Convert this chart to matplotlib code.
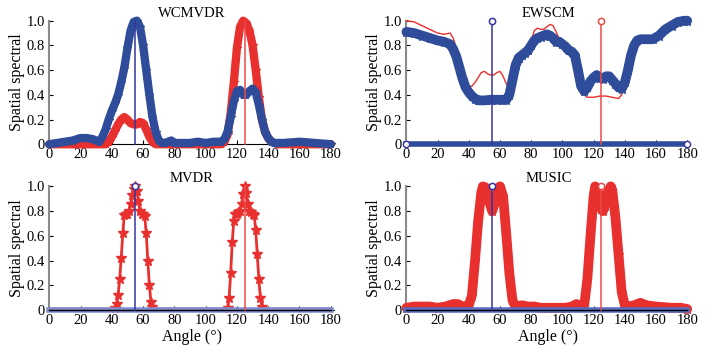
import numpy as np
import matplotlib
matplotlib.use('Agg')
import matplotlib.pyplot as plt

plt.rcParams['font.family'] = ['Liberation Serif', 'DejaVu Serif']

RED = '#e8302e'
BLUE = '#2f4c9b'
STEM_BLUE = '#3535a0'
STEM_RED = '#ec4a4a'

true_doa = [55, 125]
xticks = [0, 20, 40, 60, 80, 100, 120, 140, 160, 180]
yticks = [0, 0.2, 0.4, 0.6, 0.8, 1.0]
ytick_labels = ['0', '0.2', '0.4', '0.6', '0.8', '1.0']

# WCMVDR
wc_red_ang = [0, 36, 38, 40, 42, 44, 46, 48, 50, 52, 54, 56, 58, 60, 62, 64, 66, 68, 70,
              110, 112, 114, 116, 118, 120, 122, 124, 126, 128, 130, 132, 134, 136, 138,
              140, 142, 144, 146, 180]
wc_red_val = [0.0, 0.0, 0.02, 0.06, 0.11, 0.16, 0.2, 0.22, 0.2, 0.17, 0.16, 0.16, 0.18, 0.17,
              0.12, 0.06, 0.02, 0.0, 0.0,
              0.0, 0.02, 0.08, 0.25, 0.5, 0.78, 0.95, 1.0, 0.98, 0.92, 0.8, 0.6, 0.38, 0.2,
              0.1, 0.05, 0.02, 0.01, 0.0, 0.0]
wc_blue_ang = [0, 5, 10, 15, 20, 24, 28, 32,
               34, 36, 38, 40, 42, 44, 46, 48, 50, 52, 54, 56, 58, 60, 62, 64, 66, 68, 70,
               72, 74, 76, 78, 80,
               85, 90, 95, 100, 105, 110,
               112, 114, 116, 118, 120, 122, 124, 126, 128, 130, 132, 134, 136, 138, 140,
               142, 144,
               150, 160, 170, 180]
wc_blue_val = [0.0, 0.01, 0.02, 0.03, 0.05, 0.05, 0.04, 0.02,
               0.06, 0.12, 0.2, 0.27, 0.33, 0.4, 0.5, 0.62, 0.78, 0.92, 0.99, 1.0, 0.95,
               0.8, 0.6, 0.4, 0.22, 0.1, 0.03,
               0.01, 0.01, 0.02, 0.03, 0.01,
               0.01, 0.01, 0.02, 0.01, 0.02, 0.02,
               0.04, 0.1, 0.22, 0.35, 0.43, 0.44, 0.4, 0.4, 0.43, 0.45, 0.42, 0.32, 0.2,
               0.1, 0.05, 0.02, 0.01,
               0.01, 0.02, 0.01, 0.0]

# EWSCM
ew_red_ang = [0, 5, 10, 15, 20, 24, 28, 30, 32, 34, 36, 38, 40, 42, 44, 46, 48, 50, 52, 54,
              56, 58, 60, 62, 64, 66, 68, 70, 72, 74, 76, 78, 80, 82, 84, 86, 88, 90, 92,
              94, 96, 98, 100, 102, 104, 106, 108, 110, 112, 114, 116, 120, 124, 128, 132,
              136, 138, 140, 142, 144, 146, 148, 150, 154, 158, 162, 166, 170, 174, 178, 180]
ew_red_val = [1.0, 0.99, 0.96, 0.93, 0.9, 0.89, 0.9, 0.86, 0.78, 0.68, 0.58, 0.51, 0.47,
              0.47, 0.5, 0.54, 0.58, 0.59, 0.57, 0.56, 0.56, 0.58, 0.59, 0.55, 0.49, 0.46,
              0.56, 0.66, 0.72, 0.73, 0.76, 0.8, 0.84, 0.92, 0.94, 0.93, 0.93, 0.95, 0.97,
              0.96, 0.91, 0.85, 0.81, 0.79, 0.78, 0.77, 0.72, 0.6, 0.47, 0.4, 0.38, 0.38,
              0.39, 0.39, 0.38, 0.37, 0.4, 0.47, 0.6, 0.72, 0.8, 0.84, 0.86, 0.87, 0.88,
              0.9, 0.93, 0.96, 0.99, 1.0, 1.0]
ew_blue_ang = [0, 5, 10, 15, 20, 24, 28, 30, 32, 34, 36, 38, 40, 42, 44, 46, 50, 54, 58, 62,
               64, 66, 68, 70, 72, 74, 76, 78, 80, 82, 84, 86, 88, 90, 92, 94, 96, 98, 100,
               102, 104, 106, 108, 110, 112, 114, 116, 118, 120, 122, 124, 126, 128, 130,
               132, 134, 136, 138, 140, 142, 144, 146, 148, 150, 154, 158, 162, 166, 170,
               174, 178, 180]
ew_blue_val = [0.91, 0.9, 0.88, 0.86, 0.84, 0.83, 0.81, 0.77, 0.71, 0.62, 0.53, 0.46, 0.42,
               0.39, 0.37, 0.355, 0.355, 0.36, 0.36, 0.36, 0.36, 0.4, 0.52, 0.64, 0.7, 0.72,
               0.74, 0.76, 0.8, 0.84, 0.86, 0.87, 0.88, 0.89, 0.88, 0.86, 0.83, 0.83, 0.81,
               0.79, 0.76, 0.75, 0.72, 0.6, 0.47, 0.43, 0.46, 0.51, 0.54, 0.56, 0.54, 0.53,
               0.55, 0.55, 0.52, 0.49, 0.46, 0.45, 0.5, 0.6, 0.72, 0.8, 0.84, 0.85, 0.85,
               0.85, 0.88, 0.93, 0.96, 0.99, 1.0, 1.0]

# MVDR
mv_red_ang = [0, 10, 20, 30, 40, 42, 43, 44, 45, 46, 47, 48, 49, 50, 51, 52, 53, 54, 55, 56,
              57, 58, 59, 60, 61, 62, 63, 64, 65, 66, 68, 80, 100, 112, 114, 115, 116, 117,
              118, 119, 120, 121, 122, 123, 124, 125, 126, 127, 128, 129, 130, 131, 132,
              133, 134, 135, 136, 138, 150, 170, 180]
mv_red_val = [0.01, 0.01, 0.01, 0.01, 0.01, 0.02, 0.05, 0.12, 0.25, 0.42, 0.62, 0.77, 0.78,
              0.78, 0.8, 0.86, 0.93, 0.98, 1.0, 0.96, 0.88, 0.8, 0.78, 0.78, 0.76, 0.62,
              0.4, 0.2, 0.07, 0.03, 0.01, 0.01, 0.01, 0.01, 0.02, 0.1, 0.3, 0.55, 0.72,
              0.78, 0.78, 0.79, 0.8, 0.86, 0.94, 1.0, 0.95, 0.86, 0.8, 0.79, 0.78, 0.77,
              0.65, 0.45, 0.25, 0.1, 0.03, 0.01, 0.01, 0.01, 0.01]

# MUSIC
mu_red_ang = [0, 5, 10, 15, 20, 25, 30, 33, 36, 40, 42, 44, 46, 48, 49, 51, 53, 55, 57, 59,
              60, 62, 64, 66, 68, 70, 74, 78, 82, 86, 90, 94, 98, 102, 106, 109, 112, 114,
              116, 118, 120, 121, 123, 125, 126, 127, 129, 131, 132, 134, 136, 138, 140,
              142, 146, 150, 154, 160, 170, 176, 180]
mu_red_val = [0.02, 0.03, 0.03, 0.03, 0.02, 0.03, 0.05, 0.05, 0.03, 0.04, 0.12, 0.4, 0.72,
              0.95, 1.0, 0.99, 0.88, 0.8, 0.88, 0.99, 1.0, 0.92, 0.62, 0.3, 0.08, 0.03,
              0.04, 0.03, 0.03, 0.02, 0.02, 0.02, 0.02, 0.02, 0.03, 0.05, 0.03, 0.04, 0.25,
              0.6, 0.92, 1.0, 0.95, 0.82, 0.8, 0.84, 0.95, 1.0, 0.97, 0.75, 0.45, 0.15,
              0.04, 0.03, 0.04, 0.06, 0.04, 0.03, 0.02, 0.02, 0.01]

base_ang = [0, 180]
base_val = [0, 0]


def style_axes(ax, title, xlabel=False):
    ax.set_xlim(0, 182)
    ax.set_ylim(0, 1.0)
    ax.set_xticks(xticks)
    ax.set_yticks(yticks)
    ax.set_yticklabels(ytick_labels)
    ax.tick_params(direction='in', length=3, labelsize=10.5, pad=3)
    for s in ['top', 'right']:
        ax.spines[s].set_visible(False)
    ax.spines['left'].set_color('#8a8a8a')
    ax.spines['left'].set_linewidth(1.5)
    ax.spines['bottom'].set_color('black')
    ax.set_ylabel('Spatial spectral', fontsize=11.5, labelpad=1)
    ax.set_title(title, fontsize=10.5, pad=3)
    if xlabel:
        ax.set_xlabel('Angle (°)', fontsize=11.5, labelpad=1)


def stems(ax, markers=(True, True)):
    cols = [STEM_BLUE, STEM_RED]
    for d, c, m in zip(true_doa, cols, markers):
        ax.plot([d, d], [0, 1], color=c, lw=1.1, zorder=6, clip_on=False)
        if m:
            ax.plot([d], [1], 'o', mfc='white', mec=c, ms=4.5, mew=1.1, zorder=7, clip_on=False)


def band(ax, ang, val, color, lw, z):
    # thick band of densely packed star markers
    ax.plot(ang, val, color=color, lw=lw, solid_capstyle='round', solid_joinstyle='round',
            zorder=z, clip_on=False)
    ax.plot(ang, val, ls='none', marker='*', ms=lw * 0.9, color=color, zorder=z, clip_on=False)


fig = plt.figure(figsize=(7.08, 3.57), dpi=100)
ax1 = fig.add_axes([0.0696, 0.596, 0.402, 0.346])
ax2 = fig.add_axes([0.574, 0.596, 0.401, 0.346])
ax3 = fig.add_axes([0.0696, 0.131, 0.402, 0.347])
ax4 = fig.add_axes([0.574, 0.131, 0.401, 0.347])

# WCMVDR
band(ax1, wc_red_ang, wc_red_val, RED, 6, 3)
band(ax1, wc_blue_ang, wc_blue_val, BLUE, 6, 4)
stems(ax1, markers=(False, False))
style_axes(ax1, 'WCMVDR')

# EWSCM
ax2.plot(base_ang, base_val, color=BLUE, lw=4, zorder=3, clip_on=False)
ax2.plot(base_ang, base_val, 'o', mfc='white', mec=STEM_BLUE, ms=4.5, zorder=8, clip_on=False)
ax2.plot(ew_red_ang, ew_red_val, color=RED, lw=1.0, zorder=3, clip_on=False)
band(ax2, ew_blue_ang, ew_blue_val, BLUE, 7, 4)
stems(ax2)
style_axes(ax2, 'EWSCM')

# MVDR
peak_idx = [i for i, v in enumerate(mv_red_val) if v > 0.015]
ax3.plot(mv_red_ang, mv_red_val, color=RED, lw=2.0, zorder=3, clip_on=False)
ax3.plot(mv_red_ang, mv_red_val, ls='none', marker='*', ms=7, color=RED,
         markevery=peak_idx, zorder=3, clip_on=False)
ax3.plot(base_ang, base_val, color='#7f8cd0', lw=4, zorder=4, clip_on=False)
ax3.plot(base_ang, base_val, color='black', lw=1.0, zorder=5, clip_on=False)
stems(ax3, markers=(True, False))
style_axes(ax3, 'MVDR', xlabel=True)

# MUSIC
band(ax4, mu_red_ang, mu_red_val, RED, 7, 3)
ax4.plot(base_ang, base_val, color='#5a6cc0', lw=4, zorder=4, clip_on=False)
ax4.plot(base_ang, base_val, color='black', lw=1.0, zorder=5, clip_on=False)
stems(ax4)
style_axes(ax4, 'MUSIC', xlabel=True)

fig.savefig('out.png', dpi=100)
